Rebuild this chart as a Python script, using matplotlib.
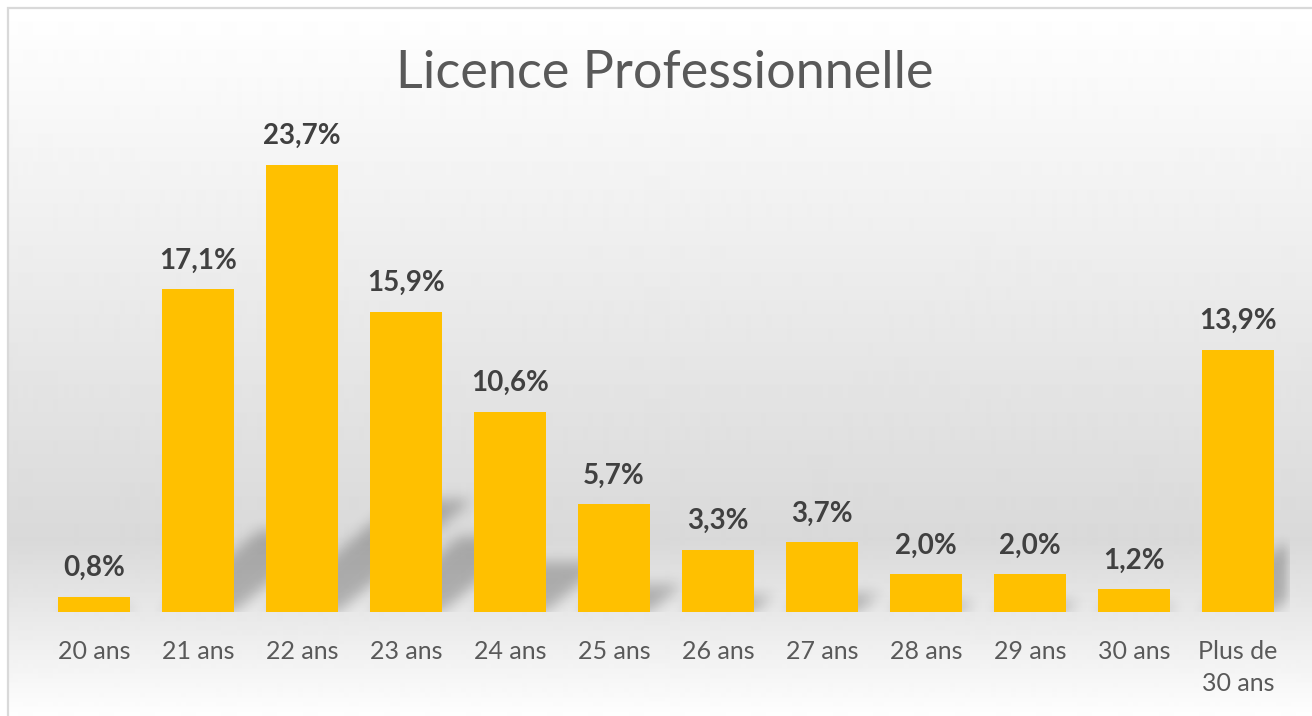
import numpy as np
import matplotlib.pyplot as plt
from matplotlib.patches import Rectangle

# ---- data ----
categories = ["20 ans", "21 ans", "22 ans", "23 ans", "24 ans", "25 ans",
              "26 ans", "27 ans", "28 ans", "29 ans", "30 ans", "Plus de\n30 ans"]
values = [0.8, 17.1, 23.7, 15.9, 10.6, 5.7, 3.3, 3.7, 2.0, 2.0, 1.2, 13.9]
value_labels = ["0,8%", "17,1%", "23,7%", "15,9%", "10,6%", "5,7%",
                "3,3%", "3,7%", "2,0%", "2,0%", "1,2%", "13,9%"]
title = "Licence Professionnelle"

# ---- figure ----
W, H = 1312, 716
plt.rcParams['font.family'] = ['Lato', 'DejaVu Sans']
fig = plt.figure(figsize=(W / 100, H / 100), dpi=100)

# background gradient (white -> grey -> white)
bg = fig.add_axes([8 / W, 0, 1 - 8 / W, 1 - 8 / H], zorder=0)
rows = np.arange(8, H)
shade = np.interp(rows, [8, 540, H], [255, 217, 254]) / 255
bg.imshow(shade[:, None], aspect='auto', cmap='gray', vmin=0, vmax=1,
          extent=[0, 1, 0, 1], interpolation='bilinear')
bg.axis('off')

# chart border
fig.patches.append(Rectangle((8 / W, -0.05), 1.2, 1 - 8 / H + 0.05,
                             transform=fig.transFigure, fill=False,
                             edgecolor='#d9d9d9', lw=1.6, zorder=1))

# plot area
ax_w, ax_h = 1248, 471.5
ax = fig.add_axes([42 / W, 104 / H, ax_w / W, ax_h / H], zorder=2)
ax.patch.set_alpha(0)
x = np.arange(len(values))
bar_w = 0.7
ymax = 25

# perspective shadows (skewed up-right, blurred)
ppx = ax_w / len(values)
ppy = ax_h / ymax
k = 1.2 * ppy / ppx
gx = np.linspace(-0.5, len(values) - 0.5, int(ax_w))
gy = np.linspace(-1, ymax, int(ax_h + ppy))
X, Y = np.meshgrid(gx, gy)
mask = np.zeros_like(X)
for xi, v in zip(x, values):
    sh = 0.25 * v
    m = (Y >= 0) & (Y <= sh) & (X >= xi - bar_w / 2 + k * Y) & (X <= xi + bar_w / 2 + k * Y)
    mask[m] = 1.0


def box_blur(a, r):
    kern = np.ones(2 * r + 1) / (2 * r + 1)
    a = np.apply_along_axis(lambda s: np.convolve(s, kern, mode='same'), 0, a)
    a = np.apply_along_axis(lambda s: np.convolve(s, kern, mode='same'), 1, a)
    return a


for _ in range(3):
    mask = box_blur(mask, 6)
rgba = np.zeros(mask.shape + (4,))
rgba[..., 3] = mask * 0.24
ax.imshow(rgba, origin='lower', aspect='auto', zorder=1,
          extent=[gx[0], gx[-1], gy[0], gy[-1]], interpolation='bilinear')

ax.bar(x, values, width=bar_w, color='#FFC000', zorder=2)
for xi, v, lab in zip(x, values, value_labels):
    ax.annotate(lab, (xi, v), xytext=(0, 15), textcoords='offset points',
                ha='center', va='baseline', fontsize=20, fontweight='bold',
                color='#404040', zorder=3)

ax.set_xlim(-0.5, len(values) - 0.5)
ax.set_ylim(0, ymax)
ax.set_xticks(x, categories, fontsize=18, color='#595959')
for t in ax.get_xticklabels():
    t.set_linespacing(1.5)
ax.tick_params(axis='x', length=0, pad=20)
ax.set_yticks([])
for s in ax.spines.values():
    s.set_visible(False)

fig.text(665 / W, 1 - 88 / H, title, ha='center', va='baseline',
         fontsize=37.5, color='#595959')

fig.savefig('out.png', dpi=100)
